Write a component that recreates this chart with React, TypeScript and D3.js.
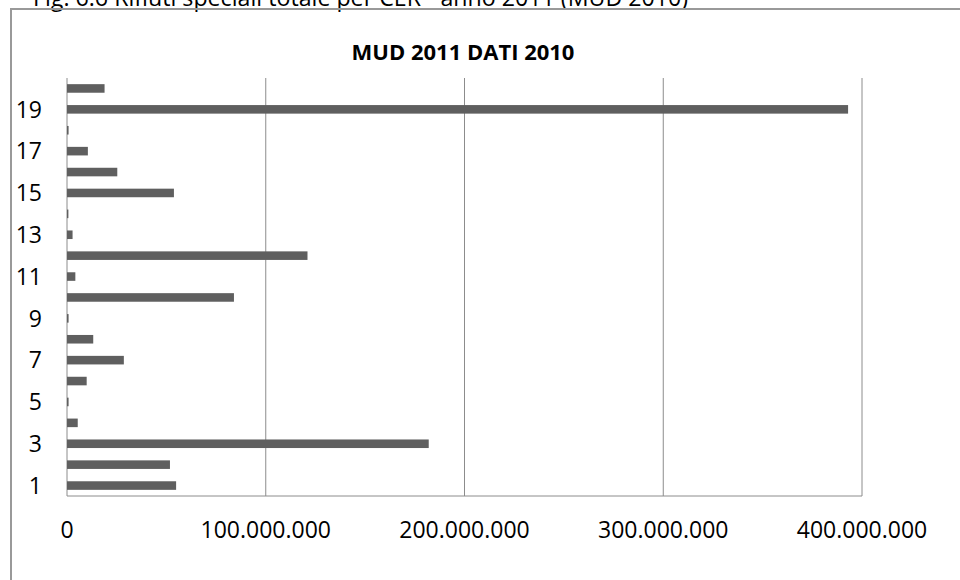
import React from "react";
import * as d3 from "d3";

const categories = ["1","2","3","4","5","6","7","8","9","10","11","12","13","14","15","16","17","18","19","20"];
const values = [54.9e6, 51.8e6, 182e6, 5.4e6, 0.8e6, 9.9e6, 28.6e6, 13.2e6, 0.8e6, 84e6, 4.2e6, 121e6, 2.8e6, 0.7e6, 53.8e6, 25.3e6, 10.5e6, 0.8e6, 393e6, 18.9e6];
const xTicks = [0, 100e6, 200e6, 300e6, 400e6];
const chartTitle = "MUD 2011 DATI 2010";
const figCaption = "Fig. 6.6 Rifiuti speciali totale per CER - anno 2011 (MUD 2010)";

const W = 960, H = 580;
const plot = { left: 67, right: 862, top: 78, bottom: 496 };

const fmt = (v: number) => v === 0 ? "0" : d3.format(",")(v).replace(/,/g, ".");

export default function App() {
  const x = d3.scaleLinear().domain([0, 400e6]).range([plot.left, plot.right]);
  const y = d3.scaleBand<string>().domain([...categories].reverse()).range([plot.top, plot.bottom]).paddingInner(0.59).paddingOuter(0.295);
  const font = "'Open Sans', 'DejaVu Sans', sans-serif";
  return (
    <svg width={W} height={H} style={{ position: "fixed", left: 0, top: 0, background: "#fff" }}>
      <rect x={0} y={0} width={W} height={H} fill="#fff" />
      <text x={33} y={6} fontFamily={font} fontSize={23.2} fill="#000">{figCaption}</text>
      <rect x={11} y={9} width={W + 20} height={H + 20} fill="none" stroke="#999" strokeWidth={2} />
      <text x={463} y={60} textAnchor="middle" fontFamily={font} fontWeight="bold" fontSize={22} fill="#000">{chartTitle}</text>
      {xTicks.slice(1).map(t => (
        <line key={t} x1={x(t)} x2={x(t)} y1={plot.top} y2={plot.bottom} stroke="#8c8c8c" strokeWidth={1} />
      ))}
      <line x1={plot.left} x2={plot.left} y1={plot.top} y2={plot.bottom} stroke="#8c8c8c" strokeWidth={1} />
      <line x1={plot.left} x2={plot.right} y1={plot.bottom} y2={plot.bottom} stroke="#8c8c8c" strokeWidth={1} />
      {categories.map((c, i) => (
        <rect key={c} x={x(0)} y={y(c)!} width={x(values[i]) - x(0)} height={y.bandwidth()} fill="#5f5f5f" />
      ))}
      {categories.map((c, i) => (i % 2 === 0 ? (
        <text key={c} x={42} y={y(c)! + y.bandwidth() / 2} dy="0.36em" textAnchor="end" fontFamily={font} fontSize={23} fill="#000">{c}</text>
      ) : null))}
      {xTicks.map(t => (
        <text key={t} x={x(t)} y={538} textAnchor="middle" fontFamily={font} fontSize={23} fill="#000">{fmt(t)}</text>
      ))}
    </svg>
  );
}
